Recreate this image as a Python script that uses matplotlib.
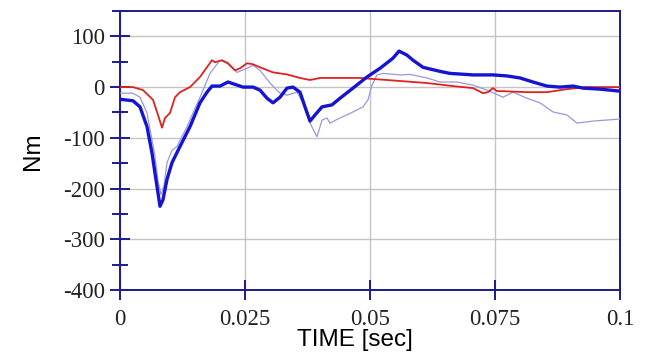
import numpy as np
import matplotlib
matplotlib.use('Agg')
import matplotlib.pyplot as plt
from matplotlib.ticker import MultipleLocator, FixedLocator, FixedFormatter

plt.rcParams['axes.unicode_minus'] = False

# torque traces [Nm] vs time [sec]
t_red = [0.0, 0.0026, 0.0046, 0.0066, 0.0076, 0.0084, 0.009, 0.010, 0.011, 0.012,
         0.014, 0.016, 0.0184, 0.019, 0.0204, 0.0216, 0.023, 0.024, 0.0254, 0.0266,
         0.028, 0.0306, 0.0334, 0.036, 0.038, 0.040, 0.044, 0.048, 0.0506, 0.056,
         0.0614, 0.0666, 0.0706, 0.0726, 0.0736, 0.0746, 0.0754, 0.0766, 0.0814,
         0.0854, 0.0894, 0.0934, 0.0974, 0.1]
torque_red = [0, 0, -6, -25, -55, -80, -61, -51, -20, -10,
              0, 20, 53, 49, 53, 47, 33, 37, 47, 45,
              39, 29, 25, 18, 14, 18, 18, 18, 16, 12,
              8, 2, -2, -12, -10, -2, -8, -8, -10,
              -10, -4, 0, 0, 0]

t_blue = [0.0, 0.0026, 0.004, 0.0054, 0.0064, 0.0074, 0.008, 0.0086, 0.0094, 0.0104,
          0.012, 0.014, 0.016, 0.0174, 0.0184, 0.020, 0.0216, 0.0234, 0.0246, 0.0266,
          0.028, 0.0294, 0.0306, 0.032, 0.0334, 0.0346, 0.036, 0.037, 0.038, 0.039,
          0.0404, 0.0424, 0.044, 0.0466, 0.0494, 0.052, 0.0546, 0.0558, 0.0574, 0.0586,
          0.0606, 0.064, 0.066, 0.0706, 0.0746, 0.0774, 0.080, 0.0826, 0.0854, 0.088,
          0.0906, 0.0926, 0.096, 0.1]
torque_blue = [-24, -27, -39, -78, -130, -196, -235, -222, -182, -149,
               -117, -78, -31, -10, 2, 2, 10, 4, 0, 0,
               -6, -22, -31, -20, -2, 0, -10, -39, -67, -55,
               -39, -35, -22, -2, 20, 37, 57, 71, 63, 53,
               39, 31, 27, 24, 24, 22, 18, 10, 2, 0,
               2, -2, -4, -8]

t_ref = [0.0, 0.0026, 0.004, 0.0054, 0.0064, 0.007, 0.0076, 0.0082, 0.0088, 0.0094,
         0.0104, 0.0114, 0.0134, 0.016, 0.018, 0.020, 0.0214, 0.0234, 0.0254, 0.0266,
         0.028, 0.030, 0.032, 0.0334, 0.0354, 0.0366, 0.038, 0.0394, 0.0404, 0.0414,
         0.042, 0.044, 0.0466, 0.0486, 0.0496, 0.0504, 0.0514, 0.0526, 0.056, 0.058,
         0.0614, 0.064, 0.0674, 0.0706, 0.0734, 0.0766, 0.0786, 0.0814, 0.084, 0.0866,
         0.0894, 0.0914, 0.0946, 0.1]
torque_ref = [-12, -12, -20, -51, -104, -137, -185, -212, -195, -149,
              -125, -117, -78, -20, 27, 53, 47, 29, 37, 43,
              33, 8, -12, -16, -10, -31, -71, -98, -65, -61,
              -71, -61, -49, -39, -25, 4, 24, 27, 24, 25,
              18, 10, 10, 4, -6, -20, -10, -22, -31, -49,
              -55, -71, -67, -63]

x_ticks = [0, 0.025, 0.05, 0.075, 0.1]
x_tick_labels = ['0', '0.025', '0.05', '0.075', '0.1']
y_ticks = [-400, -300, -200, -100, 0, 100]

navy = '#1c1c8c'

fig = plt.figure(figsize=(6.52, 3.52), dpi=100)
ax = fig.add_axes([120 / 652, 62 / 352, 500 / 652, 279 / 352])

ax.plot(t_ref, torque_ref, color='#9898da', lw=0.9, zorder=3, solid_joinstyle='round')
ax.plot(t_red, torque_red, color='#e0221e', lw=1.3, zorder=4, solid_joinstyle='round')
ax.plot(t_blue, torque_blue, color='#1414d2', lw=2.4, zorder=5, solid_joinstyle='round')

ax.set_xlim(0, 0.1)
ax.set_ylim(-400, 150)
ax.xaxis.set_major_locator(FixedLocator(x_ticks))
ax.xaxis.set_major_formatter(FixedFormatter(x_tick_labels))
ax.yaxis.set_major_locator(FixedLocator(y_ticks))
ax.yaxis.set_minor_locator(MultipleLocator(50))

ax.grid(True, which='major', color='#c4c4c4', lw=1.0, zorder=1)
for s in ax.spines.values():
    s.set_color(navy)
    s.set_linewidth(1.4)

ax.tick_params(axis='both', which='both', direction='inout', color=navy, width=1.4,
               top=False, right=False, labelcolor='#222222')
ax.tick_params(axis='y', which='major', length=14, pad=4)
ax.tick_params(axis='y', which='minor', length=12)
ax.tick_params(axis='x', which='major', length=14, pad=7)
for lbl in ax.get_xticklabels() + ax.get_yticklabels():
    lbl.set_fontfamily('Liberation Serif')
    lbl.set_fontsize(16.5)

fig.text(355 / 652, 1 - 340 / 352, 'TIME [sec]', ha='center', va='center',
         fontsize=17.5, family='Liberation Sans')
fig.text(33 / 652, 1 - 151 / 352, 'Nm', ha='center', va='center', rotation=90,
         fontsize=17.5, family='Liberation Sans')

fig.savefig('out.png', dpi=100)
